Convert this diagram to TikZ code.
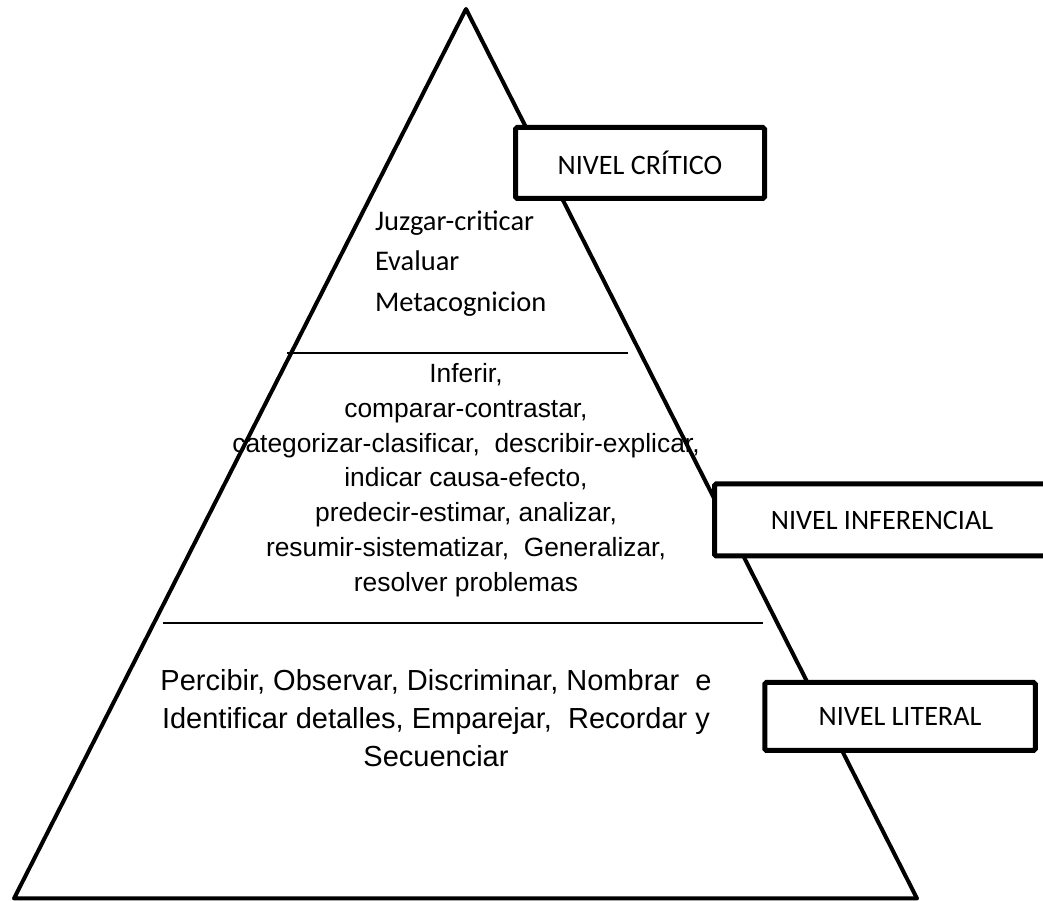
\documentclass[tikz,border=0pt]{standalone}
\usepackage{fontspec}
\usepackage{tikz}
\newfontfamily\calfont{Carlito}
\newfontfamily\arialfont{Liberation Sans}

\begin{document}
\begin{tikzpicture}[every node/.style={outer sep=0pt},
    nivel box/.style={draw, fill=white, line width=0.1cm, rounded corners=1pt, font=\calfont\fontsize{16}{19}\selectfont},
    divisor/.style={line width=0.03cm}]
        \useasboundingbox (0,0) rectangle (20.86,18.02);
        \clip (0,0) rectangle (20.86,18.02);
        % piramide
        \coordinate (top) at (9.32,17.84);
        \coordinate (left) at (0.28,0.05);
        \coordinate (right) at (18.34,0.05);
        \draw [line width=0.08cm, line join=round] (left) -- (top) -- (right) -- cycle;
        \coordinate (div1-l) at (5.74,10.96);
        \coordinate (div1-r) at (12.56,10.96);
        \coordinate (div2-l) at (3.26,5.56);
        \coordinate (div2-r) at (15.26,5.56);
        \draw [divisor] (div1-l) -- (div1-r);
        \draw [divisor] (div2-l) -- (div2-r);
        % textos de cada nivel
        \node (critico-txt) [anchor=west, inner sep=0pt, align=left, font=\calfont\fontsize{16.2}{23}\selectfont] at (7.5,12.75) {Juzgar-criticar\\Evaluar\\Metacognicion};
        \node (inferencial-txt) [align=center, inner sep=0pt, font=\arialfont\fontsize{15}{19.8}\selectfont] at (9.32,8.42) {Inferir,\\comparar-contrastar,\\categorizar-clasificar,\ \ describir-explicar,\\indicar causa-efecto,\\predecir-estimar, analizar,\\resumir-sistematizar,\ \ Generalizar,\\resolver problemas};
        \node (literal-txt) [align=center, inner sep=0pt, font=\arialfont\fontsize{16.5}{21.8}\selectfont] at (8.72,3.66) {Percibir, Observar, Discriminar, Nombrar\ \ e\\Identificar detalles, Emparejar,\ \ Recordar y\\Secuenciar};
        % cajas
        \node (critico) [nivel box, minimum width=4.98cm, minimum height=1.42cm] at (12.8,14.76) {NIVEL CRÍTICO};
        \node (inferencial) [nivel box, minimum width=6.7cm, minimum height=1.44cm] at (17.64,7.62) {NIVEL INFERENCIAL};
        \node (literal) [nivel box, minimum width=5.41cm, minimum height=1.36cm] at (18.0,3.69) {NIVEL LITERAL};
    \end{tikzpicture}
\end{document}
